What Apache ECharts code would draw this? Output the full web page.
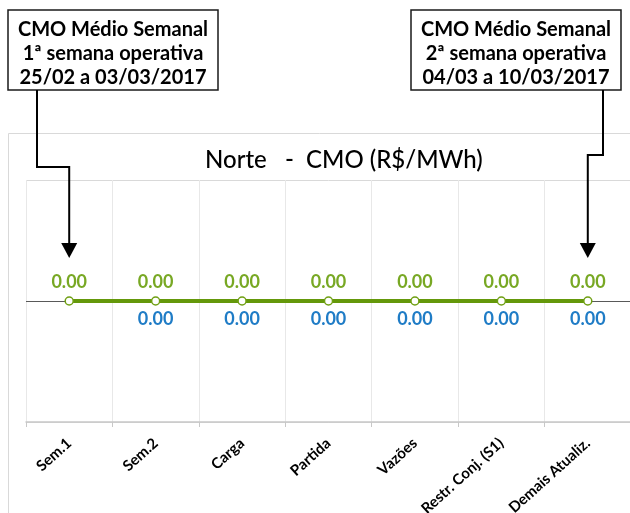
<!DOCTYPE html>
<html>
<head>
<meta charset="utf-8">
<script src="https://cdn.jsdelivr.net/npm/echarts@6/dist/echarts.min.js"></script>
<style>html,body{margin:0;padding:0;background:#fff}#c{width:630px;height:513px}</style>
</head>
<body>
<div id="c"></div>
<script>
const categories = ['Sem.1', 'Sem.2', 'Carga', 'Partida', 'Vazões', 'Restr. Conj. (S1)', 'Demais Atualiz.'];
const cmoGreen = [0, 0, 0, 0, 0, 0, 0];
const cmoBlue = [null, 0, 0, 0, 0, 0, 0];
const titleText = 'Norte   -  CMO (R$/MWh)';
const note1 = ['CMO Médio Semanal', '1ª semana operativa', '25/02 a 03/03/2017'];
const note2 = ['CMO Médio Semanal', '2ª semana operativa', '04/03 a 10/03/2017'];

const FONT = 'Lato';
const chart = echarts.init(document.getElementById('c'), null, {renderer: 'canvas'});
const fmt = p => Number(p.value).toFixed(2);

chart.setOption({
  animation: false,
  backgroundColor: '#fff',
  title: {
    text: titleText, left: 200, top: 143,
    textStyle: {fontFamily: FONT, fontSize: 24, fontWeight: 500, color: '#000'}
  },
  grid: {left: 26, right: -1, top: 180, bottom: 91, containLabel: false, outerBoundsMode: 'none'},
  xAxis: {
    type: 'category', data: categories, boundaryGap: true,
    axisLine: {onZero: false, lineStyle: {color: '#c8c8c8', width: 1.5}},
    axisTick: {show: true, length: 5, lineStyle: {color: '#c8c8c8'}},
    splitLine: {show: true, lineStyle: {color: '#e8e8e8', width: 1}},
    axisLabel: {rotate: 42, margin: 19, interval: 0, fontFamily: FONT, fontSize: 15, fontWeight: 'bold', color: '#000'}
  },
  yAxis: {
    type: 'value', min: -1, max: 1, interval: 1,
    axisLine: {show: false}, axisTick: {show: false}, axisLabel: {show: false},
    splitLine: {show: true, lineStyle: {color: '#d9d9d9'}}
  },
  series: [
    {
      name: 'Blue', type: 'line', data: cmoBlue, z: 2,
      symbol: 'circle', symbolSize: 8, itemStyle: {color: 'rgba(0,0,0,0)', borderWidth: 0}, lineStyle: {width: 0, color: 'rgba(0,0,0,0)'},
      label: {show: true, position: 'bottom', distance: 5, formatter: fmt, color: '#1f7cc6', fontFamily: FONT, fontSize: 18, fontWeight: 'bold'},
      markLine: {silent: true, symbol: 'none', label: {show: false}, lineStyle: {color: '#595959', width: 1, type: 'solid'}, data: [{yAxis: 0}]}
    },
    {
      name: 'Green', type: 'line', data: cmoGreen, z: 10,
      symbol: 'circle', symbolSize: 8,
      itemStyle: {color: '#fff', borderColor: '#6f9f12', borderWidth: 1.5},
      lineStyle: {color: '#64980a', width: 4},
      label: {show: true, position: 'top', distance: 5, formatter: fmt, color: '#78a824', fontFamily: FONT, fontSize: 18, fontWeight: 'bold'}
    }
  ]
});

function noteGroup(x, lines) {
  return {
    type: 'group', children: [
      {type: 'rect', shape: {x: x, y: 10, width: 210, height: 80}, style: {fill: '#fff', stroke: '#1a1a1a', lineWidth: 1.5}, z: 10},
      ...lines.map((t, i) => ({
        type: 'text', x: x + 105, y: 30 + i * 24, z: 11,
        style: {text: t, x: 0, y: 0, align: 'center', verticalAlign: 'middle', fontFamily: FONT, fontSize: 20, fontWeight: 'bold', fill: '#000'}
      }))
    ]
  };
}

function arrow(pts, tip) {
  return [
    {type: 'polyline', shape: {points: pts}, style: {stroke: '#000', lineWidth: 2, fill: null}, z: 10},
    {type: 'polygon', shape: {points: [[tip[0] - 8, tip[1] - 15], [tip[0] + 8, tip[1] - 15], [tip[0], tip[1]]]}, style: {fill: '#000'}, z: 10}
  ];
}

const p1 = chart.convertToPixel({seriesIndex: 1}, [0, cmoGreen[0]]);
const p2 = chart.convertToPixel({seriesIndex: 1}, [categories.length - 1, cmoGreen[categories.length - 1]]);
const tipY1 = p1[1] - 43, tipY2 = p2[1] - 43;

chart.setOption({
  graphic: [
    {type: 'rect', shape: {x: 8.5, y: 133.5, width: 700, height: 500}, style: {fill: null, stroke: '#d9d9d9', lineWidth: 1}, z: 0, silent: true},
    noteGroup(8, note1),
    noteGroup(411, note2),
    ...arrow([[37, 90], [37, 167], [p1[0], 167], [p1[0], tipY1 - 12]], [p1[0], tipY1]),
    ...arrow([[603, 90], [603, 155], [p2[0], 155], [p2[0], tipY2 - 12]], [p2[0], tipY2])
  ]
});
</script>
</body>
</html>
